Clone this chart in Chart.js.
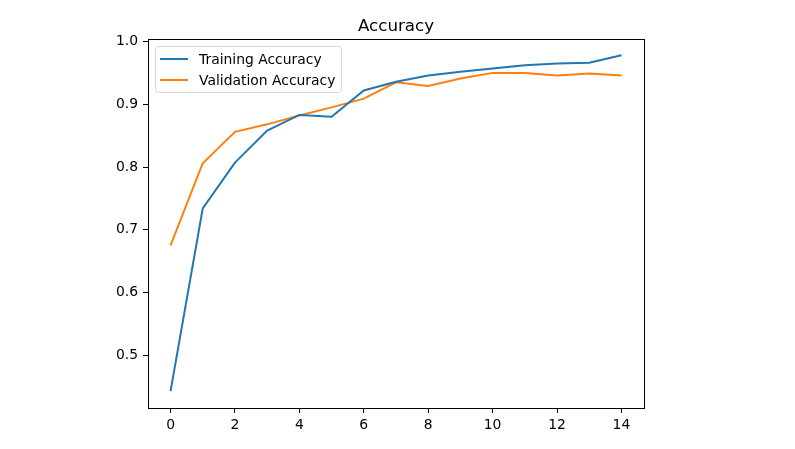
<!DOCTYPE html>
<html>
<head>
<meta charset="utf-8">
<script src="https://cdn.jsdelivr.net/npm/chart.js@4"></script>
<style>
  html, body { margin: 0; padding: 0; background: #fff; }
  #wrap { width: 795px; height: 449px; }
</style>
</head>
<body>
<div id="wrap"><canvas id="accuracy_chart" width="795" height="449"></canvas></div>
<script>
// values
const epochs = [0, 1, 2, 3, 4, 5, 6, 7, 8, 9, 10, 11, 12, 13, 14];
const trainAcc = [0.443, 0.734, 0.807, 0.858, 0.883, 0.880, 0.922, 0.936, 0.946, 0.952, 0.957, 0.962, 0.965, 0.966, 0.978];
const valAcc = [0.675, 0.806, 0.856, 0.868, 0.882, 0.895, 0.909, 0.935, 0.929, 0.941, 0.950, 0.950, 0.946, 0.949, 0.946];
const xTicks = [0, 2, 4, 6, 8, 10, 12, 14];
const yTicks = [0.5, 0.6, 0.7, 0.8, 0.9, 1.0];
const seriesNames = ['Training Accuracy', 'Validation Accuracy'];
const seriesColors = ['#1f77b4', '#ff7f0e'];
const titleText = 'Accuracy';

const font = "'DejaVu Sans', sans-serif";

// title over the plot, box round it and a legend inside, like matplotlib does
const frameAndLegend = {
  id: 'frameAndLegend',
  afterDraw(chart) {
    const { ctx, chartArea: a } = chart;
    ctx.save();
    ctx.fillStyle = '#000';
    ctx.font = '16.7px ' + font;
    ctx.textAlign = 'center';
    ctx.textBaseline = 'middle';
    ctx.fillText(titleText, (a.left + a.right) / 2, a.top - 12);

    ctx.strokeStyle = '#000';
    ctx.lineWidth = 1;
    ctx.strokeRect(Math.round(a.left) + 0.5, Math.round(a.top) + 0.5,
                   Math.round(a.right - a.left), Math.round(a.bottom - a.top));

    let bx = a.left + 7, by = a.top + 7, bw = 186, bh = 46;
    ctx.beginPath();
    ctx.roundRect(bx + 0.5, by + 0.5, bw, bh, 3);
    ctx.fillStyle = 'rgba(255,255,255,0.8)';
    ctx.fill();
    ctx.strokeStyle = '#d6d6d6';
    ctx.stroke();

    ctx.font = '13.9px ' + font;
    ctx.textBaseline = 'middle';
    ctx.textAlign = 'left';
    seriesNames.forEach((name, i) => {
      let y = by + 13 + i * 21;
      ctx.beginPath();
      ctx.moveTo(bx + 5, y);
      ctx.lineTo(bx + 33, y);
      ctx.strokeStyle = seriesColors[i];
      ctx.lineWidth = 2;
      ctx.stroke();
      ctx.fillStyle = '#000';
      ctx.fillText(name, bx + 44, y + 1);
    });
    ctx.restore();
  }
};

const tickGrid = {
  display: true,
  drawOnChartArea: false,
  drawTicks: true,
  tickLength: 5,
  color: '#000'
};

new Chart('accuracy_chart', {
  type: 'line',
  plugins: [frameAndLegend],
  data: {
    datasets: [
      {
        label: seriesNames[0],
        data: epochs.map((e, i) => ({ x: e, y: trainAcc[i] })),
        borderColor: seriesColors[0],
        borderWidth: 2,
        pointRadius: 0,
        tension: 0
      },
      {
        label: seriesNames[1],
        data: epochs.map((e, i) => ({ x: e, y: valAcc[i] })),
        borderColor: seriesColors[1],
        borderWidth: 2,
        pointRadius: 0,
        tension: 0
      }
    ]
  },
  options: {
    responsive: false,
    animation: false,
    layout: { padding: { left: 0, right: 151, top: 39, bottom: 0 } },
    plugins: {
      legend: { display: false },
      tooltip: { enabled: false },
      title: { display: false }
    },
    scales: {
      x: {
        type: 'linear',
        min: -0.7,
        max: 14.7,
        afterBuildTicks: (scale) => { scale.ticks = xTicks.map(v => ({ value: v })); },
        afterFit: (scale) => { scale.height = 41; },
        grid: tickGrid,
        border: { display: false },
        ticks: {
          color: '#000',
          padding: 4,
          maxRotation: 0,
          font: { family: font, size: 13.9 }
        }
      },
      y: {
        min: 0.416,
        max: 1.004,
        afterBuildTicks: (scale) => { scale.ticks = yTicks.map(v => ({ value: v })); },
        afterFit: (scale) => { scale.width = 148; },
        grid: tickGrid,
        border: { display: false },
        ticks: {
          color: '#000',
          padding: 5,
          font: { family: font, size: 13.9 },
          callback: (v) => v.toFixed(1)
        }
      }
    }
  }
});
</script>
</body>
</html>
